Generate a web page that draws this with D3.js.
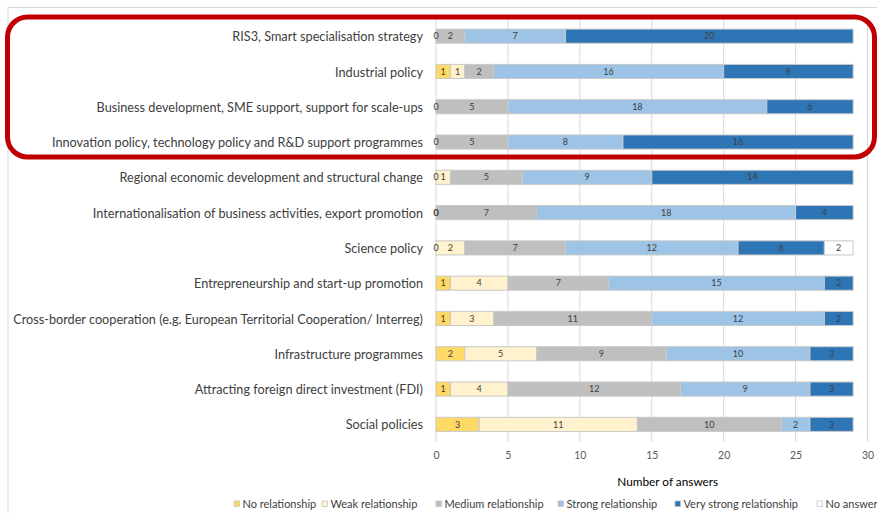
<!DOCTYPE html>
<html><head><meta charset="utf-8">
<script src="https://cdn.jsdelivr.net/npm/d3@7"></script>
<style>body{margin:0;background:#fff;overflow:hidden}svg{display:block}</style>
</head><body>
<script>
const categories = [
  "RIS3, Smart specialisation strategy",
  "Industrial policy",
  "Business development, SME support, support for scale-ups",
  "Innovation policy, technology policy and R&D support programmes",
  "Regional economic development and structural change",
  "Internationalisation of business activities, export promotion",
  "Science policy",
  "Entrepreneurship and start-up promotion",
  "Cross-border cooperation (e.g. European Territorial Cooperation/ Interreg)",
  "Infrastructure programmes",
  "Attracting foreign direct investment (FDI)",
  "Social policies"
];
const seriesNames = ["No relationship","Weak relationship","Medium relationship","Strong relationship","Very strong relationship","No answer"];
const noRelationship     = [0, 1, 0, 0, 0, 0, 0, 1, 1, 2, 1, 3];
const weakRelationship   = [null, 1, null, null, 1, 0, 2, 4, 3, 5, 4, 11];
const mediumRelationship = [2, 2, 5, 5, 5, 7, 7, 7, 11, 9, 12, 10];
const strongRelationship = [7, 16, 18, 8, 9, 18, 12, 15, 12, 10, 9, 2];
const veryStrongRelationship = [20, 9, 6, 16, 14, 4, 6, 2, 2, 3, 3, 3];
const noAnswer           = [null, null, null, null, null, null, 2, null, null, null, null, null];
const xTicks = [0, 5, 10, 15, 20, 25, 30];
const axisTitle = "Number of answers";

const colors = ["#ffd966", "#fff2cc", "#bfbfbf", "#9dc3e6", "#2e75b6", "#ffffff"];
const seriesValues = [noRelationship, weakRelationship, mediumRelationship, strongRelationship, veryStrongRelationship, noAnswer];

const W = 877, H = 513;
const FONT = "Lato, 'Open Sans', sans-serif";
const svg = d3.select("body").append("svg").attr("width", W).attr("height", H);

// chart area border
svg.append("path").attr("d", `M8,${H+2} V7.5 H${W+2}`).attr("fill","none").attr("stroke","#d9d9d9").attr("stroke-width",1);

const x = d3.scaleLinear().domain([0, 30]).range([436, 867.5]);
const y = d3.scaleBand().domain(categories).range([18.5, 442]).paddingInner(0.6).paddingOuter(0.3);

// gridlines
svg.append("g").selectAll("line").data(xTicks).join("line")
  .attr("x1", d => x(d)).attr("x2", d => x(d))
  .attr("y1", 18).attr("y2", 442)
  .attr("stroke", "#d9d9d9").attr("stroke-width", 1);

// x axis
const xAxis = svg.append("g").attr("transform", "translate(0,452)")
  .call(d3.axisBottom(x).tickValues(xTicks).tickSize(0).tickPadding(0));
xAxis.select(".domain").remove();
xAxis.selectAll("text").attr("font-family", FONT).attr("font-size", 10.5).attr("fill", "#595959");

svg.append("text").attr("x", x(15)+16).attr("y", 486).attr("text-anchor","middle")
  .attr("font-family", FONT).attr("font-size", 11.8).attr("fill", "#000").text(axisTitle);

// category labels
const yAxis = svg.append("g").attr("transform", "translate(423,1)")
  .call(d3.axisLeft(y).tickSize(0).tickPadding(0));
yAxis.select(".domain").remove();
yAxis.selectAll("text").attr("font-family", FONT).attr("font-size", 12.7).attr("fill", "#404040");

// stacked bars
const rows = categories.map((c, i) => {
  let acc = 0;
  const segs = [];
  seriesValues.forEach((arr, s) => {
    const v = arr[i];
    if (v === null) return;
    segs.push({cat: c, s, v, x0: acc, x1: acc + v});
    acc += v;
  });
  return segs;
}).flat();

const g = svg.append("g");
g.selectAll("rect").data(rows.filter(d => d.v > 0)).join("rect")
  .attr("x", d => x(d.x0)).attr("width", d => x(d.x1) - x(d.x0))
  .attr("y", d => y(d.cat)).attr("height", y.bandwidth())
  .attr("fill", d => colors[d.s]).attr("stroke", "#c9c9c9").attr("stroke-width", 1);

g.selectAll("text").data(rows).join("text")
  .attr("x", d => x((d.x0 + d.x1) / 2)).attr("y", d => y(d.cat) + y.bandwidth() / 2)
  .attr("dy", "0.35em").attr("text-anchor", "middle")
  .attr("font-family", FONT).attr("font-size", 9).attr("fill", "#404040")
  .text(d => d.v);

// legend
const legendX = [234, 322, 436, 558, 675, 817];
const lg = svg.append("g").selectAll("g").data(seriesNames).join("g")
  .attr("transform", (d, i) => `translate(${legendX[i]},505)`);
lg.append("rect").attr("x", 0).attr("y", -4).attr("width", 5.5).attr("height", 5.5)
  .attr("fill", (d, i) => colors[i]).attr("stroke", "#bfbfbf").attr("stroke-width", 0.7);
lg.append("text").attr("x", 8.5).attr("y", 0).attr("dy", "0.3em")
  .attr("font-family", FONT).attr("font-size", 11).attr("fill", "#404040").text(d => d);

// red highlight box
svg.append("rect").attr("x", 7.5).attr("y", 17).attr("width", 867).attr("height", 140).attr("rx", 20)
  .attr("fill", "none").attr("stroke", "#c00000").attr("stroke-width", 5);
</script>
</body></html>
